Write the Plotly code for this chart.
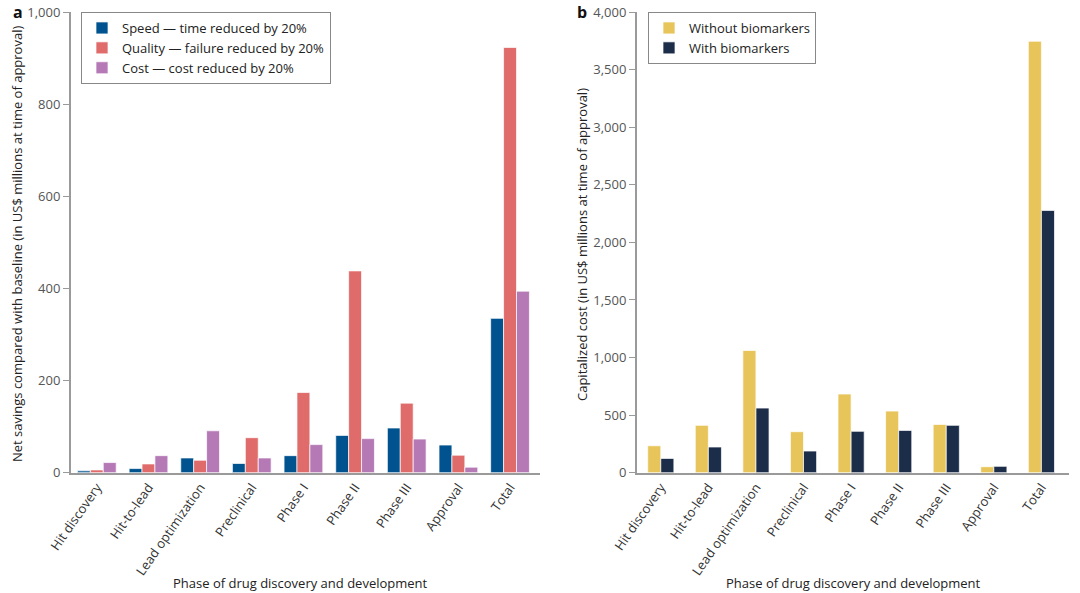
import plotly.graph_objects as go

phases = ["Hit discovery", "Hit-to-lead", "Lead optimization", "Preclinical",
          "Phase I", "Phase II", "Phase III", "Approval", "Total"]

# Panel a: net savings (US$ millions)
speed = [4, 9, 32, 20, 37, 81, 97, 60, 335]
quality = [6, 19, 27, 76, 174, 438, 151, 38, 923]
cost = [22, 37, 91, 32, 61, 74, 73, 12, 394]

# Panel b: capitalized cost (US$ millions)
without_bm = [234, 411, 1061, 356, 683, 535, 419, 52, 3746]
with_bm = [124, 223, 561, 188, 359, 367, 411, 55, 2277]

yticks_a = [0, 200, 400, 600, 800, 1000]
yticks_b = [0, 500, 1000, 1500, 2000, 2500, 3000, 3500, 4000]

W, H = 1080, 593


def px(x):
    return x / W


def py(y):
    return 1 - y / H


FONT = "Open Sans"
TICK_COL = "#555555"
AXIS_COL = "#9a9a9a"

C_SPEED = "#00538f"
C_QUAL = "#df6b6a"
C_COST = "#b57ab5"
C_WITHOUT = "#e8c55b"
C_WITH = "#1c2d49"

xi = list(range(len(phases)))

fig = go.Figure()

bw_a = 0.25
for name, vals, col, off in [
    ("Speed — time reduced by 20%", speed, C_SPEED, -0.375),
    ("Quality — failure reduced by 20%", quality, C_QUAL, -0.125),
    ("Cost — cost reduced by 20%", cost, C_COST, 0.125),
]:
    fig.add_trace(go.Bar(x=xi, y=vals, name=name, width=bw_a, offset=off,
                         marker=dict(color=col, line=dict(color="rgba(255,255,255,0.7)", width=1)),
                         xaxis="x", yaxis="y", legend="legend"))

bw_b = 0.275
for name, vals, col, off in [
    ("Without biomarkers", without_bm, C_WITHOUT, -0.275),
    ("With biomarkers", with_bm, C_WITH, 0.0),
]:
    fig.add_trace(go.Bar(x=xi, y=vals, name=name, width=bw_b, offset=off,
                         marker=dict(color=col, line=dict(color="rgba(255,255,255,0.7)", width=1)),
                         xaxis="x2", yaxis="y2", legend="legend2"))

ydom = [py(472.7), py(12)]

common_x = dict(
    tickmode="array", tickvals=xi, ticktext=phases, tickangle=-55,
    range=[-0.5, 8.58], showline=True, linecolor=AXIS_COL, linewidth=2,
    ticks="", showgrid=False, zeroline=False, automargin=False,
    tickfont=dict(family=FONT, size=13, color="#333333"),
)
common_y = dict(
    showline=True, linecolor=AXIS_COL, linewidth=2, ticks="outside",
    ticklen=6, tickcolor=AXIS_COL, tickwidth=1, showgrid=False, zeroline=False,
    automargin=False, tickformat=",", tickfont=dict(family=FONT, size=13, color=TICK_COL),
)

leg_common = dict(xanchor="left", yanchor="top",
                  bordercolor="#888888", borderwidth=1, bgcolor="white",
                  font=dict(family=FONT, size=13, color="#222222"),
                  itemwidth=30, tracegroupgap=0, traceorder="normal")

fig.update_layout(
    width=W, height=H,
    margin=dict(l=0, r=0, t=0, b=0),
    paper_bgcolor="white", plot_bgcolor="white",
    font=dict(family=FONT, size=13, color="#333333"),
    barmode="group",
    xaxis=dict(domain=[px(71), px(540)], anchor="y", **common_x),
    yaxis=dict(domain=ydom, anchor="x", range=[0, 1000], tickvals=yticks_a, **common_y),
    xaxis2=dict(domain=[px(637), px(1069)], anchor="y2", **common_x),
    yaxis2=dict(domain=ydom, anchor="x2", range=[0, 4000], tickvals=yticks_b, **common_y),
    legend=dict(x=px(81), y=py(12), **leg_common),
    legend2=dict(x=px(648), y=py(12), **leg_common),
    showlegend=True,
)

ann = [
    dict(text="<b>a</b>", x=px(18), y=py(12), xanchor="center", yanchor="middle",
         font=dict(family=FONT, size=16, color="#111111")),
    dict(text="<b>b</b>", x=px(582), y=py(12), xanchor="center", yanchor="middle",
         font=dict(family=FONT, size=16, color="#111111")),
    dict(text="Net savings compared with baseline (in US$ millions at time of approval)",
         x=px(17), y=py(244), xanchor="center", yanchor="middle", textangle=-90,
         font=dict(family=FONT, size=13, color="#222222")),
    dict(text="Capitalized cost (in US$ millions at time of approval)",
         x=px(582), y=py(245), xanchor="center", yanchor="middle", textangle=-90,
         font=dict(family=FONT, size=13, color="#222222")),
    dict(text="Phase of drug discovery and development",
         x=px(300), y=py(583), xanchor="center", yanchor="middle",
         font=dict(family=FONT, size=13, color="#222222")),
    dict(text="Phase of drug discovery and development",
         x=px(853), y=py(583), xanchor="center", yanchor="middle",
         font=dict(family=FONT, size=13, color="#222222")),
]
for a in ann:
    a.update(xref="paper", yref="paper", showarrow=False)
fig.update_layout(annotations=ann)

fig.write_html("out.html",
               config={"displayModeBar": False},
               post_script="document.body.style.margin='0px';document.body.style.padding='0px';")
